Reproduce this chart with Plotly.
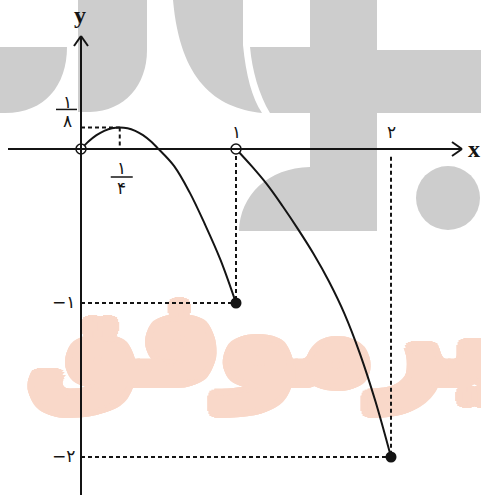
import plotly.graph_objects as go

W, H = 481, 495

# نقاط خوانده شده از روی نمودار (شاخه اول روی [0, 1] و شاخه دوم روی (1, 2])
x1 = [0, 0.05, 0.1, 0.15, 0.2, 0.25, 0.3, 0.35, 0.4, 0.45, 0.5, 0.6, 0.7, 0.8, 0.9, 1.0]
y1 = [0, 0.05, 0.09, 0.118, 0.135, 0.14, 0.135, 0.118, 0.09, 0.05, 0.0, -0.11, -0.28, -0.49, -0.72, -1.0]
x2 = [1.0, 1.1, 1.2, 1.3, 1.4, 1.5, 1.6, 1.7, 1.8, 1.9, 2.0]
y2 = [0, -0.11, -0.23, -0.37, -0.52, -0.68, -0.86, -1.07, -1.33, -1.64, -2.0]

# نقاط توخالی و توپر
open_x = [0, 1]
open_y = [0, 0]
full_x = [1, 2]
full_y = [-1, -2]

# رأس سهمی
peak_x = 0.25
peak_y = 0.14

# برچسب‌ها
x_ticks = [1, 2]
x_tick_text = ["۱", "۲"]
y_ticks = [-1, -2]
y_tick_text = ["−۱", "−۲"]
peak_x_frac = ("۱", "۴")
peak_y_frac = ("۱", "۸")

# مقیاس پیکسلی: مبدأ در (81, 149)
X0, Y0, SX, SY = 81, 149, 155, 154
x_range = [-X0 / SX, (W - X0) / SX]
y_range = [(Y0 - H) / SY, Y0 / SY]

BLACK = "#141414"
DIGIT_FONT = dict(family="DejaVu Sans", size=17, color=BLACK)

fig = go.Figure()

# واترمارک نارنجی (زیر خطوط)
ORANGE = "#f9d8c9"
ring = []
for dx, dy in ((7, 0), (5, 5), (0, 7), (6, 3), (3, 6), (4, 0), (0, 4), (3, 3)):
    for sx in (1, -1):
        for sy in (1, -1):
            ring.append(f"{sx * dx}px {sy * dy}px 0 {ORANGE}")
fig.add_trace(go.Scatter(x=[(28 - X0) / SX], y=[(Y0 - 350) / SY], mode="text",
                         text=["دبیرموفق"], textposition="middle right",
                         textfont=dict(family="DejaVu Sans", size=123, weight="bold",
                                       color=ORANGE, shadow=", ".join(ring)),
                         hoverinfo="skip", showlegend=False))

# خطوط راهنمای نقطه‌چین
guide = dict(color=BLACK, width=2, dash="4px,3px")
guides = [
    ([0, peak_x], [peak_y, peak_y]),
    ([peak_x, peak_x], [peak_y, 0]),
    ([full_x[0], full_x[0]], [0, full_y[0]]),
    ([0, full_x[0]], [full_y[0], full_y[0]]),
    ([full_x[1], full_x[1]], [-0.05, full_y[1]]),
    ([0, full_x[1]], [full_y[1], full_y[1]]),
]
for gx, gy in guides:
    fig.add_trace(go.Scatter(x=gx, y=gy, mode="lines", line=guide,
                             hoverinfo="skip", showlegend=False))

# محورها
ax_line = dict(color=BLACK, width=2)
fig.add_shape(type="line", x0=-0.471, x1=2.458, y0=0, y1=0, line=ax_line)
fig.add_shape(type="line", x0=0, x1=0, y0=y_range[0], y1=0.734, line=ax_line)
for dy in (7, -7):
    fig.add_shape(type="line", xsizemode="pixel", xanchor=2.458, x0=-10, x1=0,
                  ysizemode="pixel", yanchor=0, y0=dy, y1=0, line=ax_line)
    fig.add_shape(type="line", xsizemode="pixel", xanchor=0, x0=dy, x1=0,
                  ysizemode="pixel", yanchor=0.734, y0=-10, y1=0, line=ax_line)

# منحنی‌ها
fig.add_trace(go.Scatter(x=x1, y=y1, mode="lines", line=dict(color=BLACK, width=2, shape="spline"),
                         showlegend=False))
fig.add_trace(go.Scatter(x=x2, y=y2, mode="lines", line=dict(color=BLACK, width=2, shape="spline"),
                         showlegend=False))
fig.add_trace(go.Scatter(x=open_x, y=open_y, mode="markers",
                         marker=dict(size=10, color="white", line=dict(color=BLACK, width=1.5)),
                         showlegend=False))
fig.add_trace(go.Scatter(x=full_x, y=full_y, mode="markers",
                         marker=dict(size=11, color=BLACK), showlegend=False))

# برچسب‌های محور
for v, t in zip(x_ticks, x_tick_text):
    fig.add_annotation(x=v, y=0, text=t, showarrow=False, yshift=17, font=DIGIT_FONT)
for v, t in zip(y_ticks, y_tick_text):
    fig.add_annotation(x=0, y=v, text=t, showarrow=False, xshift=-18, yshift=1, font=DIGIT_FONT)

# کسر ۱/۸ روی محور y
fig.add_annotation(x=0, y=peak_y, text=peak_y_frac[0], showarrow=False, xshift=-14, yshift=25, font=DIGIT_FONT)
fig.add_annotation(x=0, y=peak_y, text=peak_y_frac[1], showarrow=False, xshift=-14, yshift=6, font=DIGIT_FONT)
fig.add_shape(type="line", xsizemode="pixel", xanchor=0, x0=-25, x1=-4,
              ysizemode="pixel", yanchor=peak_y, y0=18, y1=18, line=dict(color=BLACK, width=1.5))

# کسر ۱/۴ زیر محور x
fig.add_annotation(x=peak_x, y=0, text=peak_x_frac[0], showarrow=False, xshift=2, yshift=-19, font=DIGIT_FONT)
fig.add_annotation(x=peak_x, y=0, text=peak_x_frac[1], showarrow=False, xshift=2, yshift=-39, font=DIGIT_FONT)
fig.add_shape(type="line", xsizemode="pixel", xanchor=peak_x, x0=-9, x1=13,
              ysizemode="pixel", yanchor=0, y0=-28, y1=-28, line=dict(color=BLACK, width=1.5))

# نام محورها
label_font = dict(family="Liberation Serif", size=24, color=BLACK)
fig.add_annotation(x=2.458, y=0, text="<b>x</b>", showarrow=False, xshift=12, yshift=0, font=label_font)
fig.add_annotation(x=0, y=0.734, text="<b>y</b>", showarrow=False, xshift=-1, yshift=21, font=label_font)


# واترمارک خاکستری (مختصات پیکسلی)
def px_path(cmds):
    out = []
    for c in cmds:
        if isinstance(c, str):
            out.append(c)
        else:
            out.append(f"{c[0] / W:.4f},{1 - c[1] / H:.4f}")
    return " ".join(out)


GRAY = "#cdcdcd"
logo = [
    ["M", (0, 47), "L", (67, 47), "C", (67, 85), (45, 113), (5, 113), "L", (0, 113), "Z"],
    ["M", (78, 0), "L", (147, 0), "L", (147, 50), "C", (147, 85), (125, 111), (90, 112), "L", (78, 112), "Z"],
    ["M", (173, 0), "L", (243, 0), "L", (243, 45), "C", (246, 75), (252, 98), (262, 113),
     "C", (215, 108), (180, 80), (173, 0), "Z"],
    ["M", (250, 47), "L", (310, 47), "L", (310, 0), "L", (377, 0), "L", (377, 50), "L", (481, 50),
     "L", (481, 113), "L", (377, 113), "L", (377, 231), "L", (239, 231),
     "C", (240, 195), (268, 168), (310, 167), "L", (310, 113), "L", (270, 113),
     "C", (259, 95), (252, 70), (250, 47), "Z"],
]
for p in logo:
    fig.add_shape(type="path", xref="paper", yref="paper", path=px_path(p),
                  fillcolor=GRAY, line=dict(width=0), layer="below")
fig.add_shape(type="circle", xref="paper", yref="paper",
              x0=416 / W, x1=480 / W, y0=1 - 230 / H, y1=1 - 166 / H,
              fillcolor=GRAY, line=dict(width=0), layer="below")

fig.update_xaxes(range=x_range, visible=False)
fig.update_yaxes(range=y_range, visible=False)
fig.update_layout(width=W, height=H, margin=dict(l=0, r=0, t=0, b=0),
                  paper_bgcolor="white", plot_bgcolor="white", showlegend=False)

fig.write_html("out.html", config={"displayModeBar": False},
               post_script="document.body.style.margin='0';")
